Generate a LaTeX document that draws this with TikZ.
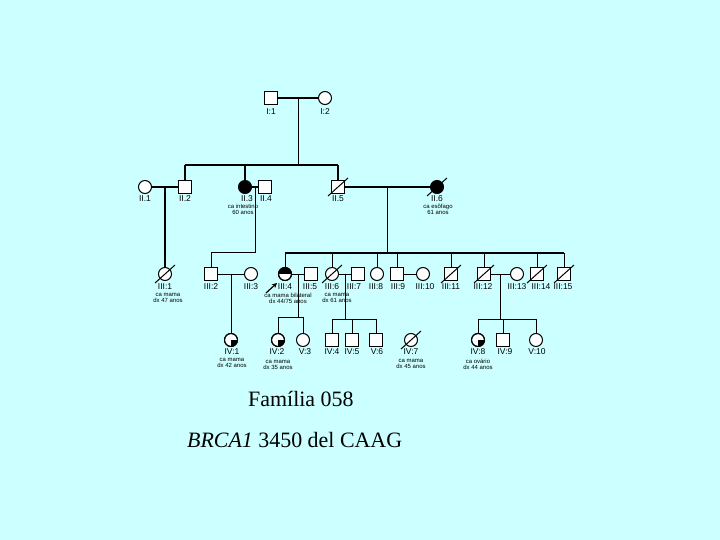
\documentclass[tikz,border=0pt]{standalone}
\usepackage{fontspec}
\setmainfont{Liberation Serif}
\setsansfont{Liberation Sans}
\usetikzlibrary{arrows.meta}
\definecolor{bgcyan}{RGB}{204,255,255}
\newcommand\deceased[1]{\draw[line width=1bp] ([shift={(-10,9)}]#1.center) -- ([shift={(10,-9)}]#1.center);}
\newcommand\halffill[1]{\begin{scope}\clip (#1.center) circle[radius=6.5];\fill (#1.center) ++(-8,-8) rectangle ++(16,8);\end{scope}\draw[line width=1bp] (#1.center) circle[radius=6.5];}
\newcommand\quadfill[1]{\begin{scope}\clip (#1.center) circle[radius=6.5];\fill (#1.center) rectangle ++(8,8);\end{scope}\draw[line width=1bp] (#1.center) circle[radius=6.5];}
\begin{document}
\begin{tikzpicture}[x=1bp,y=-1bp,
 male/.style={draw,rectangle,minimum size=13bp,inner sep=0,line width=1bp,fill=white},
 female/.style={draw,circle,minimum size=13bp,inner sep=0,line width=1bp,fill=white},
 aff/.style={fill=black},
 lbl/.style={font=\sffamily\fontsize{8.5}{9}\selectfont,inner sep=0},
 sublbl/.style={font=\sffamily\fontsize{6}{6.3}\selectfont,inner sep=0,align=center,anchor=north},
 rel/.style={line width=1.6bp},
 lin/.style={line width=1bp},
]
\fill[bgcyan] (0,0) rectangle (720,540);
\useasboundingbox (0,0) rectangle (720,540);

% ---------------- Generation I
\node[male] (I1) at (271,98) {};
\node[female] (I2) at (325,98) {};
\node[lbl] (lI1) at (271,112) {I:1};
\node[lbl] (lI2) at (325,112) {I:2};

% ---------------- Generation II
\node[female] (II1) at (145,187) {};
\node[male] (II2) at (185,187) {};
\node[female,aff] (II3) at (245,187) {};
\node[male] (II4) at (265,187) {};
\node[male] (II5) at (338,187) {};
\node[female,aff] (II6) at (437,187) {};
\deceased{II5}
\deceased{II6}
\node[lbl] (lII1) at (145,199) {II.1};
\node[lbl] (lII2) at (185,199) {II.2};
\node[lbl] (lII3) at (247,199) {II.3};
\node[lbl] (lII4) at (266,199) {II.4};
\node[lbl] (lII5) at (338,199) {II.5};
\node[lbl] (lII6) at (437,199) {II.6};
\node[sublbl] (sII3) at (243,204) {ca intestino\\60 anos};
\node[sublbl] (sII6) at (438,204) {ca esôfago\\61 anos};

% connectors I -> II
\draw[rel] (I1.east) -- (I2.west);
\coordinate (cI) at (298,98);
\coordinate (sI) at (298,165);
\draw[lin] (cI) -- (sI);
\coordinate (sIl) at (185,165);
\coordinate (sIr) at (338,165);
\draw[rel] (sIl) -- (sIr);
\draw[rel] (sIl) -- (II2.north);
\draw[rel] (II3.north |- sIl) -- (II3.north);
\draw[rel] (sIr) -- (II5.north);

% ---------------- Generation III
\node[female] (III1) at (165,274) {};
\node[male] (III2) at (211,274) {};
\node[female] (III3) at (251,274) {};
\node[female] (III4) at (285,274) {};
\node[male] (III5) at (311,274) {};
\node[female] (III6) at (332,274) {};
\node[male] (III7) at (358,274) {};
\node[female] (III8) at (377,274) {};
\node[male] (III9) at (397,274) {};
\node[female] (III10) at (423,274) {};
\node[male] (III11) at (451,274) {};
\node[male] (III12) at (484,274) {};
\node[female] (III13) at (517,274) {};
\node[male] (III14) at (537,274) {};
\node[male] (III15) at (564,274) {};
\halffill{III4}
\deceased{III1}
\deceased{III6}
\deceased{III11}
\deceased{III12}
\deceased{III14}
\deceased{III15}
\node[lbl] (lIII1) at (165,287) {III:1};
\node[lbl] (lIII2) at (211,287) {III:2};
\node[lbl] (lIII3) at (251,287) {III:3};
\node[lbl] (lIII4) at (285,287) {III:4};
\node[lbl] (lIII5) at (310,287) {III:5};
\node[lbl] (lIII6) at (332,287) {III:6};
\node[lbl] (lIII7) at (354,287) {III:7};
\node[lbl] (lIII8) at (376,287) {III:8};
\node[lbl] (lIII9) at (398,287) {III:9};
\node[lbl] (lIII10) at (425,287) {III:10};
\node[lbl] (lIII11) at (451,287) {III:11};
\node[lbl] (lIII12) at (483,287) {III:12};
\node[lbl] (lIII13) at (517,287) {III:13};
\node[lbl] (lIII14) at (541,287) {III:14};
\node[lbl] (lIII15) at (563,287) {III:15};
\node[sublbl] (sIII1) at (168,293) {ca mama\\dx 47 anos};
\node[sublbl] (sIII4) at (288,293) {ca mama bilateral\\dx 44/75 anos};
\node[sublbl] (sIII6) at (337,293) {ca mama\\dx 61 anos};
\coordinate (arT) at (266,293);
\coordinate (arH) at (277,283);
\draw[line width=1.2bp,-{Stealth[length=5bp,width=5bp]}] (arT) -- (arH);

% connectors II -> III
\draw[rel] (II1.east) -- (II2.west);
\coordinate (c12) at (165,187);
\draw[rel] (c12) -- (III1.north);
\draw[rel] (II3.east) -- (II4.west);
\coordinate (c34) at (255,187);
\coordinate (k1) at (255,253);
\coordinate (k2) at (211,253);
\draw[lin] (c34) -- (k1) -- (k2) -- (III2.north);
\draw[rel] (II5.east) -- (II6.west);
\coordinate (c56) at (387,187);
\coordinate (s3) at (387,253);
\draw[lin] (c56) -- (s3);
\coordinate (s3l) at (285,253);
\coordinate (s3r) at (564,253);
\draw[rel] (s3l) -- (s3r);
\foreach \n in {III4,III6,III8,III9,III11,III12,III14,III15}
  \draw[lin] (\n.north |- s3l) -- (\n.north);

% ---------------- Generation IV
\node[female] (IV1) at (231,340) {};
\node[female] (IV2) at (278,340) {};
\node[female] (V3) at (303,340) {};
\node[male] (IV4) at (332,340) {};
\node[male] (IV5) at (352,340) {};
\node[male] (V6) at (376,340) {};
\node[female] (IV7) at (411,340) {};
\node[female] (IV8) at (478,340) {};
\node[male] (IV9) at (503,340) {};
\node[female] (V10) at (536,340) {};
\quadfill{IV1}
\quadfill{IV2}
\quadfill{IV8}
\deceased{IV7}
\node[lbl] (lIV1) at (232,352) {IV:1};
\node[lbl] (lIV2) at (277,352) {IV:2};
\node[lbl] (lV3) at (305,352) {V:3};
\node[lbl] (lIV4) at (332,352) {IV:4};
\node[lbl] (lIV5) at (352,352) {IV:5};
\node[lbl] (lV6) at (377,352) {V:6};
\node[lbl] (lIV7) at (411,352) {IV:7};
\node[lbl] (lIV8) at (478,352) {IV:8};
\node[lbl] (lIV9) at (505,352) {IV:9};
\node[lbl] (lV10) at (537,352) {V:10};
\node[sublbl] (sIV1) at (232,358) {ca mama\\dx 42 anos};
\node[sublbl] (sIV2) at (278,360) {ca mama\\dx 35 anos};
\node[sublbl] (sIV7) at (411,359) {ca mama\\dx 45 anos};
\node[sublbl] (sIV8) at (478,359) {ca ovário\\dx 44 anos};

% connectors III -> IV
\draw[lin] (III2.east) -- (III3.west);
\coordinate (c23) at (231,274);
\draw[lin] (c23) -- (IV1.north);
\draw[lin] (III4.east) -- (III5.west);
\coordinate (c45) at (298,274);
\coordinate (s45) at (298,317);
\draw[lin] (c45) -- (s45);
\draw[lin] (IV2.north |- s45) -- (V3.north |- s45);
\draw[lin] (IV2.north |- s45) -- (IV2.north);
\draw[lin] (V3.north |- s45) -- (V3.north);
\draw[lin] (III6.east) -- (III7.west);
\coordinate (c67) at (345,274);
\coordinate (s67) at (345,319);
\draw[lin] (c67) -- (s67);
\draw[lin] (IV4.north |- s67) -- (V6.north |- s67);
\foreach \n in {IV4,IV5,V6}
  \draw[lin] (\n.north |- s67) -- (\n.north);
\draw[lin] (III9.east) -- (III10.west);
\draw[lin] (III12.east) -- (III13.west);
\coordinate (c1213) at (500,274);
\coordinate (s1213) at (500,319);
\draw[lin] (c1213) -- (s1213);
\draw[lin] (IV8.north |- s1213) -- (V10.north |- s1213);
\foreach \n in {IV8,IV9,V10}
  \draw[lin] (\n.north |- s1213) -- (\n.north);

% ---------------- Titles
\node[font=\fontsize{22}{26}\selectfont,anchor=base west,inner sep=0] (t1) at (248,406) {Família 058};
\node[font=\fontsize{22}{26}\selectfont,anchor=base west,inner sep=0] (t2) at (187,447) {\textit{BRCA1} 3450 del CAAG};
\end{tikzpicture}
\end{document}
